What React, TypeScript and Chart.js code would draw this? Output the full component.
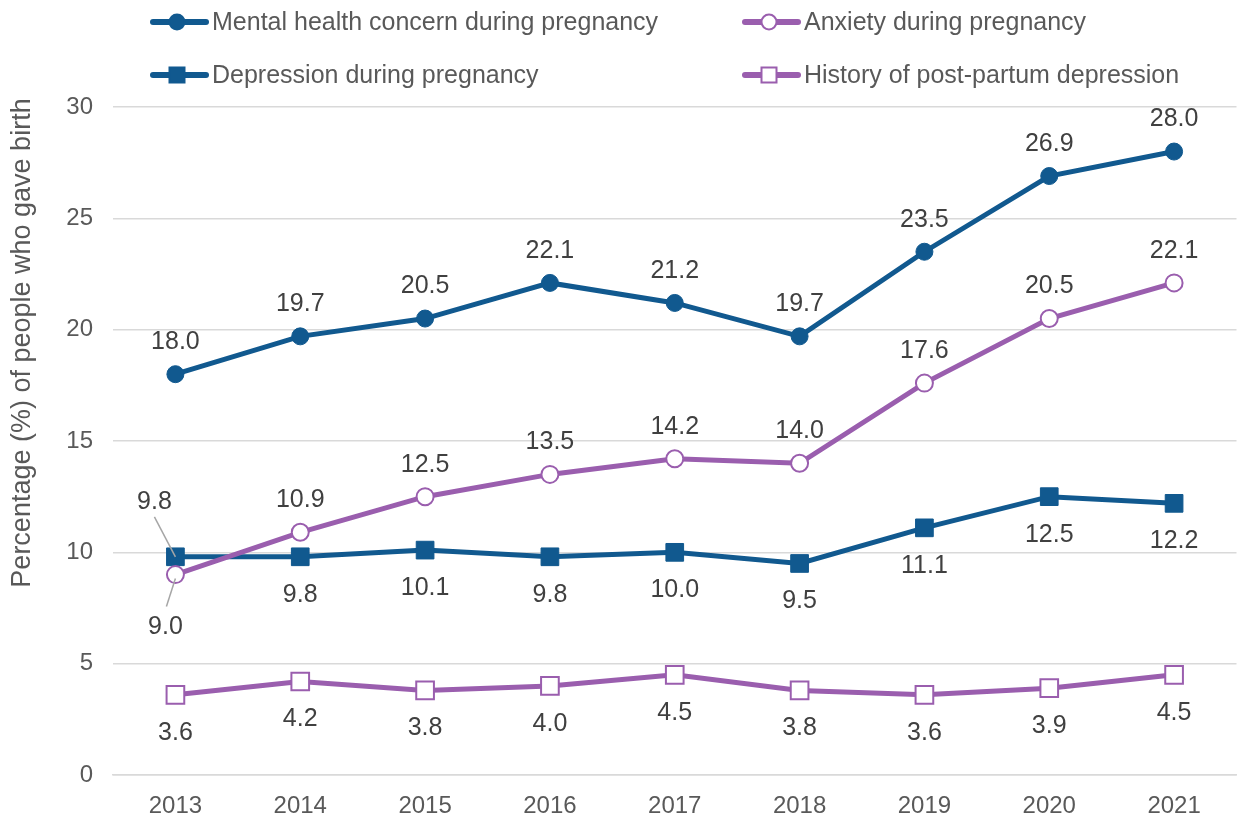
import React, { useEffect, useRef } from "react";
import { Chart, registerables } from "chart.js";

Chart.register(...registerables);

const years = ["2013", "2014", "2015", "2016", "2017", "2018", "2019", "2020", "2021"];
const mentalHealth = [18.0, 19.7, 20.5, 22.1, 21.2, 19.7, 23.5, 26.9, 28.0];
const anxiety = [9.0, 10.9, 12.5, 13.5, 14.2, 14.0, 17.6, 20.5, 22.1];
const depression = [9.8, 9.8, 10.1, 9.8, 10.0, 9.5, 11.1, 12.5, 12.2];
const postPartum = [3.6, 4.2, 3.8, 4.0, 4.5, 3.8, 3.6, 3.9, 4.5];

const BLUE = "#11598f";
const PURPLE = "#9a5eae";
const TEXT = "#595959";
const LABEL = "#404040";
const FONT = "'Liberation Sans', Arial, sans-serif";

type Override = { dx: number; dy: number; lx1: number; ly1: number; lx2: number; ly2: number };

const legendItems = [
  { x: 150, y: 22 },
  { x: 150, y: 75 },
  { x: 742, y: 22 },
  { x: 742, y: 75 },
];

export default function App() {
  const ref = useRef<HTMLCanvasElement | null>(null);
  useEffect(() => {
    if (!ref.current) return;
    const overrides: Record<number, Record<number, Override>> = {
      1: { 0: { dx: -21, dy: -55, lx1: -21, ly1: -40, lx2: 0, ly2: 0 } },
      2: { 0: { dx: -10, dy: 53, lx1: -9, ly1: 32, lx2: 0, ly2: 4 } },
    };
    const sides = [-32, 38, -32, 38];

    const labelPlugin = {
      id: "valueLabels",
      afterDatasetsDraw(chart: any) {
        const ctx = chart.ctx;
        ctx.save();
        ctx.font = `25px ${FONT}`;
        ctx.fillStyle = LABEL;
        ctx.textAlign = "center";
        ctx.textBaseline = "middle";
        chart.data.datasets.forEach((ds: any, di: number) => {
          const meta = chart.getDatasetMeta(di);
          meta.data.forEach((pt: any, i: number) => {
            const v = ds.data[i] as number;
            const ov = overrides[di] && overrides[di][i];
            if (ov) {
              ctx.strokeStyle = "#a6a6a6";
              ctx.lineWidth = 1.5;
              ctx.beginPath();
              ctx.moveTo(pt.x + ov.lx1, pt.y + ov.ly1);
              ctx.lineTo(pt.x + ov.lx2, pt.y + ov.ly2);
              ctx.stroke();
              ctx.fillText(v.toFixed(1), pt.x + ov.dx, pt.y + ov.dy);
            } else {
              ctx.fillText(v.toFixed(1), pt.x, pt.y + sides[di]);
            }
          });
        });
        ctx.restore();
      },
    };

    const legendPlugin = {
      id: "customLegend",
      afterDraw(chart: any) {
        const ctx = chart.ctx;
        ctx.save();
        chart.data.datasets.forEach((ds: any, di: number) => {
          const pos = legendItems[di];
          const y = pos.y;
          ctx.strokeStyle = ds.borderColor;
          ctx.lineWidth = 6;
          ctx.lineCap = "round";
          ctx.beginPath();
          ctx.moveTo(pos.x + 3, y);
          ctx.lineTo(pos.x + 56, y);
          ctx.stroke();
          const cx = pos.x + 27;
          ctx.lineWidth = 2;
          ctx.fillStyle = ds.pointBackgroundColor;
          ctx.strokeStyle = ds.pointBorderColor;
          if (ds.pointStyle === "circle") {
            ctx.beginPath();
            ctx.arc(cx, y, 7.5, 0, Math.PI * 2);
            ctx.fill();
            ctx.stroke();
          } else {
            ctx.beginPath();
            ctx.rect(cx - 7.5, y - 7.5, 15, 15);
            ctx.fill();
            ctx.stroke();
          }
          ctx.font = `25px ${FONT}`;
          ctx.fillStyle = TEXT;
          ctx.textAlign = "left";
          ctx.textBaseline = "middle";
          ctx.fillText(ds.label, pos.x + 62, y + 1);
        });
        // y-axis title
        ctx.translate(23, 343);
        ctx.rotate(-Math.PI / 2);
        ctx.font = `27px ${FONT}`;
        ctx.fillStyle = TEXT;
        ctx.textAlign = "center";
        ctx.textBaseline = "middle";
        ctx.fillText("Percentage (%) of people who gave birth", 0, 0);
        ctx.restore();
      },
    };

    const chart = new Chart(ref.current, {
      type: "line",
      data: {
        labels: years,
        datasets: [
          {
            label: "Mental health concern during pregnancy",
            data: mentalHealth,
            borderColor: BLUE,
            backgroundColor: BLUE,
            pointBackgroundColor: BLUE,
            pointBorderColor: BLUE,
            pointStyle: "circle",
            pointRadius: 8.5,
            pointBorderWidth: 1,
            borderWidth: 5,
            order: 1,
          },
          {
            label: "Depression during pregnancy",
            data: depression,
            borderColor: BLUE,
            backgroundColor: BLUE,
            pointBackgroundColor: BLUE,
            pointBorderColor: BLUE,
            pointStyle: "rect",
            pointRadius: 12.5,
            pointBorderWidth: 1,
            borderWidth: 5,
            order: 3,
          },
          {
            label: "Anxiety during pregnancy",
            data: anxiety,
            borderColor: PURPLE,
            backgroundColor: "#ffffff",
            pointBackgroundColor: "#ffffff",
            pointBorderColor: PURPLE,
            pointStyle: "circle",
            pointRadius: 8.5,
            pointBorderWidth: 2,
            borderWidth: 5,
            order: 0,
          },
          {
            label: "History of post-partum depression",
            data: postPartum,
            borderColor: PURPLE,
            backgroundColor: "#ffffff",
            pointBackgroundColor: "#ffffff",
            pointBorderColor: PURPLE,
            pointStyle: "rect",
            pointRadius: 12.5,
            pointBorderWidth: 2,
            borderWidth: 5,
            order: 2,
          },
        ],
      },
      options: {
        responsive: false,
        animation: false,
        layout: { padding: { top: 107, left: 0, right: 0, bottom: 0 } },
        plugins: { legend: { display: false }, tooltip: { enabled: false } },
        scales: {
          x: {
            offset: true,
            grid: { display: false },
            border: { display: true, color: "#d9d9d9", width: 1.5 },
            ticks: { color: TEXT, font: { size: 24, family: FONT }, padding: 9 },
            afterFit: (s: any) => {
              s.height = 43;
            },
          },
          y: {
            min: 0,
            max: 30,
            ticks: { stepSize: 5, color: TEXT, font: { size: 24, family: FONT }, padding: 20 },
            grid: { color: "#d9d9d9", lineWidth: 1.5, drawTicks: false },
            border: { display: false },
            afterFit: (s: any) => {
              s.width = 113;
            },
          },
        },
      },
      plugins: [labelPlugin, legendPlugin],
    });
    return () => chart.destroy();
  }, []);
  return (
    <div style={{ position: "absolute", left: 0, top: 0, width: 1251, height: 818, background: "#fff" }}>
      <canvas ref={ref} width={1251} height={818} />
    </div>
  );
}
